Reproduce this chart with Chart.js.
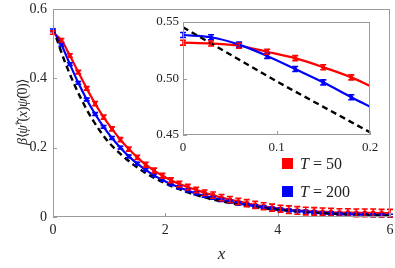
<!DOCTYPE html>
<html>
<head>
<meta charset="utf-8">
<script src="https://cdn.jsdelivr.net/npm/chart.js@4.4.1/dist/chart.umd.min.js"></script>
<style>
html, body { margin: 0; padding: 0; background: #fff; }
#wrap { position: relative; width: 395px; height: 268px; overflow: hidden; font-family: 'Liberation Serif', serif; color: #222; }
#main { position: absolute; left: 0; top: 0; }
#inset { position: absolute; left: 135px; top: 8px; }
.sq { position: absolute; width: 11px; height: 11px; }
.lg { position: absolute; left: 300px; font-size: 16px; line-height: 16px; white-space: nowrap; }
#ylab { position: absolute; left: -72px; top: 102px; width: 180px; height: 20px; line-height: 20px; text-align: center;
        font-size: 14px; letter-spacing: -0.4px; transform: rotate(-90deg); white-space: nowrap; }
</style>
</head>
<body>
<div id="wrap">
  <canvas id="main" width="395" height="268"></canvas>
  <canvas id="inset" width="245" height="150"></canvas>
  <div class="sq" style="left:282px;top:158px;background:#ff0000"></div>
  <div class="lg" style="top:156px"><i>T</i> = 50</div>
  <div class="sq" style="left:282px;top:186px;background:#0000ff"></div>
  <div class="lg" style="top:184px"><i>T</i> = 200</div>
  <div id="ylab"><i>β</i>⟨<i>ψ̂</i><sup style="font-size:9px">†</sup>(<i>x</i>)<i>ψ̂</i>(0)⟩</div>
</div>
<script>
// --- dati grafico principale ---
const xs = [0, 0.15, 0.3, 0.45, 0.6, 0.75, 0.9, 1.05, 1.2, 1.35, 1.5, 1.65, 1.8, 1.95, 2.1, 2.25, 2.4, 2.55, 2.7, 2.85,
            3.0, 3.15, 3.3, 3.45, 3.6, 3.75, 3.9, 4.05, 4.2, 4.35, 4.5, 4.65, 4.8, 4.95, 5.1, 5.25, 5.4, 5.55, 5.7, 5.85, 6.0];
const redT50 = [0.532, 0.510, 0.466, 0.418, 0.371, 0.327, 0.288, 0.254, 0.223, 0.196, 0.172, 0.151, 0.134, 0.119, 0.106,
                0.095, 0.086, 0.078, 0.070, 0.063, 0.056, 0.050, 0.045, 0.040, 0.035, 0.031, 0.027, 0.024, 0.021, 0.019,
                0.017, 0.016, 0.015, 0.014, 0.013, 0.013, 0.012, 0.012, 0.012, 0.011, 0.011];
const redErr = [0.005, 0.005, 0.005, 0.005, 0.005, 0.006, 0.006, 0.006, 0.006, 0.006, 0.006, 0.007, 0.007, 0.007, 0.007,
                0.008, 0.008, 0.008, 0.008, 0.009, 0.009, 0.009, 0.009, 0.010, 0.010, 0.010, 0.010, 0.010, 0.011, 0.011,
                0.011, 0.011, 0.011, 0.011, 0.011, 0.011, 0.011, 0.011, 0.011, 0.011, 0.011];
const blueT200 = [0.5385, 0.4966, 0.441, 0.387, 0.339, 0.297, 0.260, 0.228, 0.200, 0.175, 0.154, 0.136, 0.120, 0.107, 0.095,
                  0.085, 0.076, 0.068, 0.061, 0.055, 0.049, 0.044, 0.039, 0.035, 0.031, 0.028, 0.025, 0.022, 0.019, 0.017,
                  0.015, 0.013, 0.011, 0.010, 0.009, 0.008, 0.007, 0.006, 0.005, 0.005, 0.004];
const blueErr = [0.004, 0.004, 0.004, 0.004, 0.004, 0.004, 0.004, 0.004, 0.004, 0.004, 0.004, 0.004, 0.004, 0.004, 0.004,
                 0.004, 0.004, 0.004, 0.004, 0.004, 0.004, 0.004, 0.004, 0.004, 0.004, 0.004, 0.004, 0.004, 0.004, 0.004,
                 0.004, 0.004, 0.004, 0.004, 0.004, 0.004, 0.004, 0.004, 0.004, 0.004, 0.004];
const blackX = [0, 0.1, 0.2, 0.3, 0.4, 0.5, 0.6, 0.7, 0.8, 0.9, 1.0, 1.2, 1.4, 1.6, 1.8, 2.0, 2.2, 2.4, 2.6, 2.8,
                3.0, 3.25, 3.5, 3.75, 4.0, 4.5, 5.0, 5.5, 6.0];
const blackY = [0.545, 0.498, 0.4524, 0.412, 0.375, 0.341, 0.310, 0.282, 0.257, 0.234, 0.214, 0.182, 0.155, 0.132, 0.113,
                0.097, 0.083, 0.071, 0.061, 0.052, 0.045, 0.037, 0.031, 0.025, 0.021, 0.014, 0.009, 0.006, 0.004];
const xTicks = [0, 2, 4, 6];
const yTicks = [0, 0.2, 0.4, 0.6];

// --- dati inset ---
const insetX = [0, 0.03, 0.06, 0.09, 0.12, 0.15, 0.18];
const insetRed = [0.5317, 0.531, 0.529, 0.5237, 0.518, 0.510, 0.501];
const insetRedErr = [0.0022, 0.0022, 0.0022, 0.0022, 0.0022, 0.0022, 0.0022];
const insetBlue = [0.5385, 0.5365, 0.530, 0.520, 0.5084, 0.4966, 0.4834];
const insetBlueErr = [0.0022, 0.0022, 0.0022, 0.0022, 0.0022, 0.0022, 0.0022];
const insetLineX = [0, 0.03, 0.06, 0.09, 0.12, 0.15, 0.18, 0.2];
const insetRedLine = [0.5317, 0.531, 0.529, 0.5237, 0.518, 0.510, 0.501, 0.4934];
const insetBlueLine = [0.5385, 0.5365, 0.530, 0.520, 0.5084, 0.4966, 0.4834, 0.475];
const insetBlackX = [0, 0.1, 0.2];
const insetBlackY = [0.5453, 0.4975, 0.4524];
const insetXTicks = [0, 0.1, 0.2];
const insetYTicks = [0.45, 0.5, 0.55];

const RED = '#ff0000', BLUE = '#0000ff', FRAME = '#9a9a9a', TXT = '#222';
const FONT = "'Liberation Serif', serif";

function pts(x, y) { return x.map((v, i) => ({ x: v, y: y[i] })); }

// barre d'errore disegnate con le scale del grafico
const errorBarPlugin = {
    id: 'errorBars',
    afterDatasetsDraw(chart) {
        const ctx = chart.ctx, a = chart.chartArea, ys = chart.scales.y;
        ctx.save();
        ctx.beginPath();
        ctx.rect(a.left - 3, a.top - 3, a.right - a.left + 6, a.bottom - a.top + 6);
        ctx.clip();
        chart.data.datasets.forEach((ds, i) => {
            if (!ds.errorBars) return;
            const meta = chart.getDatasetMeta(i);
            ctx.strokeStyle = ds.borderColor;
            ctx.lineWidth = 1.6;
            meta.data.forEach((p, j) => {
                const v = ds.data[j].y, e = ds.errorBars[j];
                const y0 = ys.getPixelForValue(v - e), y1 = ys.getPixelForValue(v + e);
                const cw = 3;
                ctx.beginPath();
                ctx.moveTo(p.x, y0); ctx.lineTo(p.x, y1);
                ctx.moveTo(p.x - cw, y0); ctx.lineTo(p.x + cw, y0);
                ctx.moveTo(p.x - cw, y1); ctx.lineTo(p.x + cw, y1);
                ctx.stroke();
            });
        });
        ctx.restore();
    }
};

// cornice grigia e tacche verso l'interno
const framePlugin = {
    id: 'frame',
    afterDraw(chart) {
        const { ctx, chartArea: a, scales } = chart;
        ctx.save();
        ctx.strokeStyle = FRAME;
        ctx.lineWidth = 1;
        ctx.strokeRect(Math.round(a.left) + 0.5, Math.round(a.top) + 0.5,
                       Math.round(a.right - a.left) - 1, Math.round(a.bottom - a.top) - 1);
        ctx.beginPath();
        scales.x.ticks.forEach(t => {
            const px = Math.round(scales.x.getPixelForValue(t.value)) + 0.5;
            ctx.moveTo(px, a.bottom); ctx.lineTo(px, a.bottom - 4);
        });
        scales.y.ticks.forEach(t => {
            const py = Math.round(scales.y.getPixelForValue(t.value)) + 0.5;
            ctx.moveTo(a.left, py); ctx.lineTo(a.left + 4, py);
        });
        ctx.stroke();
        ctx.restore();
    }
};

function fmt(v, d) { return Math.abs(v) < 1e-9 ? '0' : v.toFixed(d); }

// area del grafico fissata: niente padding extra per le etichette
function fixX(h) { return s => { s.height = h; s.paddingLeft = 0; s.paddingRight = 0; }; }
function fixY(w) { return s => { s.width = w; s.paddingTop = 0; s.paddingBottom = 0; }; }

new Chart(document.getElementById('main'), {
    type: 'scatter',
    data: {
        datasets: [
            { data: pts(blackX, blackY), showLine: true, borderColor: '#000', borderWidth: 2.4, borderDash: [6, 4],
              pointRadius: 0, cubicInterpolationMode: 'monotone', order: 0 },
            { data: pts(xs, blueT200), errorBars: blueErr, showLine: true, borderColor: BLUE, backgroundColor: BLUE,
              borderWidth: 2.2, pointStyle: 'rect', pointRadius: 2.8, pointBorderWidth: 0,
              cubicInterpolationMode: 'monotone', order: 1 },
            { data: pts(xs, redT50), errorBars: redErr, showLine: true, borderColor: RED, backgroundColor: RED,
              borderWidth: 2.2, pointStyle: 'rect', pointRadius: 2.8, pointBorderWidth: 0,
              cubicInterpolationMode: 'monotone', order: 2 }
        ]
    },
    options: {
        responsive: false, animation: false, devicePixelRatio: 1,
        layout: { padding: { left: 0, top: 9, right: 5, bottom: 0 } },
        plugins: { legend: { display: false }, tooltip: { enabled: false } },
        scales: {
            x: {
                type: 'linear', min: 0, max: 6,
                afterBuildTicks: s => { s.ticks = xTicks.map(v => ({ value: v })); },
                afterFit: fixX(51),
                grid: { display: false, drawTicks: false }, border: { display: false },
                ticks: { color: TXT, padding: 5, font: { family: FONT, size: 14 }, callback: v => fmt(v, 0) },
                title: { display: true, text: 'x', color: TXT, padding: { top: 0, bottom: 3 },
                         font: { family: FONT, size: 17, style: 'italic' } }
            },
            y: {
                min: 0, max: 0.6,
                afterBuildTicks: s => { s.ticks = yTicks.map(v => ({ value: v })); },
                afterFit: fixY(53),
                grid: { display: false, drawTicks: false }, border: { display: false },
                ticks: { color: TXT, padding: 6, font: { family: FONT, size: 14 }, callback: v => fmt(v, 1) }
            }
        }
    },
    plugins: [errorBarPlugin, framePlugin]
});

new Chart(document.getElementById('inset'), {
    type: 'scatter',
    data: {
        datasets: [
            { data: pts(insetBlackX, insetBlackY), showLine: true, borderColor: '#000', borderWidth: 2.4, borderDash: [6, 4],
              pointRadius: 0, order: 0 },
            { data: pts(insetLineX, insetBlueLine), showLine: true, borderColor: BLUE, borderWidth: 2.2,
              pointRadius: 0, cubicInterpolationMode: 'monotone', order: 1 },
            { data: pts(insetLineX, insetRedLine), showLine: true, borderColor: RED, borderWidth: 2.2,
              pointRadius: 0, cubicInterpolationMode: 'monotone', order: 2 },
            { data: pts(insetX, insetBlue), errorBars: insetBlueErr, showLine: false, borderColor: BLUE, backgroundColor: BLUE,
              pointStyle: 'rect', pointRadius: 2.5, pointBorderWidth: 0, order: 3 },
            { data: pts(insetX, insetRed), errorBars: insetRedErr, showLine: false, borderColor: RED, backgroundColor: RED,
              pointStyle: 'rect', pointRadius: 2.5, pointBorderWidth: 0, order: 4 }
        ]
    },
    options: {
        responsive: false, animation: false, devicePixelRatio: 1,
        layout: { padding: { left: 0, top: 14, right: 10, bottom: 0 } },
        plugins: { legend: { display: false }, tooltip: { enabled: false } },
        scales: {
            x: {
                type: 'linear', min: 0, max: 0.2,
                afterBuildTicks: s => { s.ticks = insetXTicks.map(v => ({ value: v })); },
                afterFit: fixX(23),
                grid: { display: false, drawTicks: false }, border: { display: false },
                ticks: { color: TXT, padding: 5, font: { family: FONT, size: 13 }, callback: v => fmt(v, 1) }
            },
            y: {
                min: 0.45, max: 0.55,
                afterBuildTicks: s => { s.ticks = insetYTicks.map(v => ({ value: v })); },
                afterFit: fixY(48),
                grid: { display: false, drawTicks: false }, border: { display: false },
                ticks: { color: TXT, padding: 4, font: { family: FONT, size: 13 }, callback: v => v.toFixed(2) }
            }
        }
    },
    plugins: [errorBarPlugin, framePlugin]
});
</script>
</body>
</html>
